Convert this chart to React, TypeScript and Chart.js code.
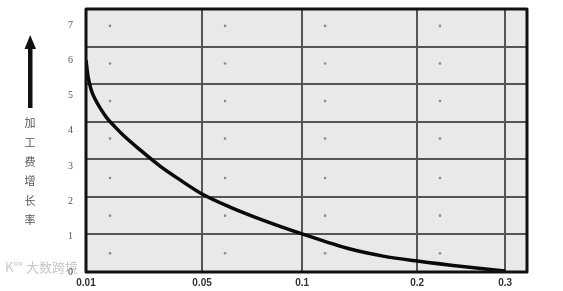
import React, { useEffect, useRef } from "react";
import { Chart, registerables } from "chart.js";

Chart.register(...registerables);

// X axis: tick labels and their positions on the (non-uniform) drawn axis
const xTickLabels = ["0.01", "0.05", "0.1", "0.2", "0.3"];
const xTickPos = [0, 1, 1.862, 2.853, 3.612];
const xMax = 3.8;

// Y axis tick labels
const yTickValues = [0, 1, 2, 3, 4, 5, 6, 7];
const yMax = 7.45;

// Grid rows (7 equal cells)
const gridRows = [0, 1, 2, 3, 4, 5, 6, 7];

// Curve
const curveX = [0, 0.017, 0.043, 0.078, 0.121, 0.181, 0.25, 0.319, 0.466, 0.638, 0.81, 1.0, 1.241, 1.5, 1.862, 2.276, 2.56, 2.853, 3.284, 3.612];
const curveY = [6.0, 5.55, 5.18, 4.9, 4.65, 4.36, 4.11, 3.88, 3.46, 3.0, 2.61, 2.21, 1.84, 1.5, 1.08, 0.65, 0.45, 0.31, 0.14, 0.03];

// Small dots in cells
const dotX = [0.207, 1.198, 2.06, 3.05];
const dotRow = [6.55, 5.55, 4.55, 3.55, 2.5, 1.5, 0.5];

const yAxisTitle = "加工费增长率";
const watermark = "K°° 大数跨境";

const decorPlugin = {
  id: "decor",
  beforeDraw(chart: any) {
    const { ctx, chartArea: a } = chart;
    ctx.save();
    ctx.fillStyle = "#ffffff";
    ctx.fillRect(0, 0, chart.width, chart.height);
    ctx.fillStyle = "#e9e9e9";
    ctx.fillRect(a.left, a.top, a.right - a.left, a.bottom - a.top);
    // watermark
    ctx.font = "13px 'Noto Sans CJK SC'";
    ctx.textAlign = "left";
    ctx.textBaseline = "middle";
    ctx.fillStyle = "#c6c6c6";
    ctx.fillText(watermark, 5, 267);
    ctx.restore();
  },
  afterDraw(chart: any) {
    const { ctx, chartArea: a } = chart;
    ctx.save();
    // border
    ctx.strokeStyle = "#111";
    ctx.lineWidth = 3;
    ctx.lineJoin = "round";
    ctx.strokeRect(a.left, a.top, a.right - a.left, a.bottom - a.top);
    // arrow
    ctx.fillStyle = "#111";
    ctx.fillRect(28, 46, 4.5, 62);
    ctx.beginPath();
    ctx.moveTo(30.2, 35);
    ctx.lineTo(24.5, 49);
    ctx.lineTo(36, 49);
    ctx.closePath();
    ctx.fill();
    // vertical title
    ctx.fillStyle = "#555";
    ctx.font = "11px 'Noto Sans CJK SC'";
    ctx.textAlign = "center";
    ctx.textBaseline = "middle";
    Array.from(yAxisTitle).forEach((ch, i) => {
      ctx.fillText(ch, 30, 123 + i * 19.4);
    });
    ctx.restore();
  },
};

export default function App() {
  const ref = useRef<HTMLCanvasElement>(null);
  useEffect(() => {
    if (!ref.current) return;
    const dots: { x: number; y: number }[] = [];
    dotRow.forEach((r) => dotX.forEach((x) => dots.push({ x, y: r })));
    const chart = new Chart(ref.current, {
      type: "scatter",
      data: {
        datasets: [
          {
            type: "line",
            data: curveX.map((x, i) => ({ x, y: curveY[i] })),
            borderColor: "#0a0a0a",
            borderWidth: 3.5,
            pointRadius: 0,
            cubicInterpolationMode: "monotone",
            fill: false,
            yAxisID: "y",
          } as any,
          {
            type: "scatter",
            data: dots,
            backgroundColor: "#8a8a8a",
            borderWidth: 0,
            pointRadius: 1.3,
            yAxisID: "y2",
          } as any,
        ],
      },
      options: {
        animation: false,
        responsive: false,
        devicePixelRatio: 1,
        layout: { padding: { top: 9, right: 36, bottom: 0, left: 0 } },
        plugins: { legend: { display: false }, tooltip: { enabled: false } },
        scales: {
          x: {
            type: "linear",
            min: 0,
            max: xMax,
            afterBuildTicks: (s: any) => {
              s.ticks = xTickPos.map((v) => ({ value: v }));
            },
            afterFit: (s: any) => {
              s.height = 19;
              s.paddingLeft = 0;
              s.paddingRight = 0;
            },
            ticks: {
              autoSkip: false,
              maxRotation: 0,
              padding: 5,
              color: "#333",
              font: { family: "'Liberation Sans'", size: 10, weight: "bold" },
              callback: (_v: any, i: number) => xTickLabels[i],
            },
            grid: { color: "#555", lineWidth: 2, drawTicks: false },
            border: { display: false },
          },
          y: {
            type: "linear",
            position: "left",
            min: 0,
            max: yMax,
            afterBuildTicks: (s: any) => {
              s.ticks = yTickValues.map((v) => ({ value: v }));
            },
            afterFit: (s: any) => {
              s.width = 86;
              s.paddingTop = 0;
              s.paddingBottom = 0;
            },
            ticks: {
              padding: 13,
              color: "#555",
              font: { family: "'Liberation Serif'", size: 10 },
            },
            grid: { display: false, drawTicks: false },
            border: { display: false },
          },
          y2: {
            type: "linear",
            position: "left",
            min: 0,
            max: 7,
            afterBuildTicks: (s: any) => {
              s.ticks = gridRows.map((v) => ({ value: v }));
            },
            afterFit: (s: any) => {
              s.width = 0;
              s.paddingTop = 0;
              s.paddingBottom = 0;
            },
            ticks: { display: false },
            grid: { color: "#555", lineWidth: 2, drawTicks: false },
            border: { display: false },
          },
        },
      },
      plugins: [decorPlugin],
    } as any);
    return () => chart.destroy();
  }, []);
  return (
    <div style={{ position: "absolute", left: 0, top: 0, width: 563, height: 291 }}>
      <canvas ref={ref} width={563} height={291} />
    </div>
  );
}
